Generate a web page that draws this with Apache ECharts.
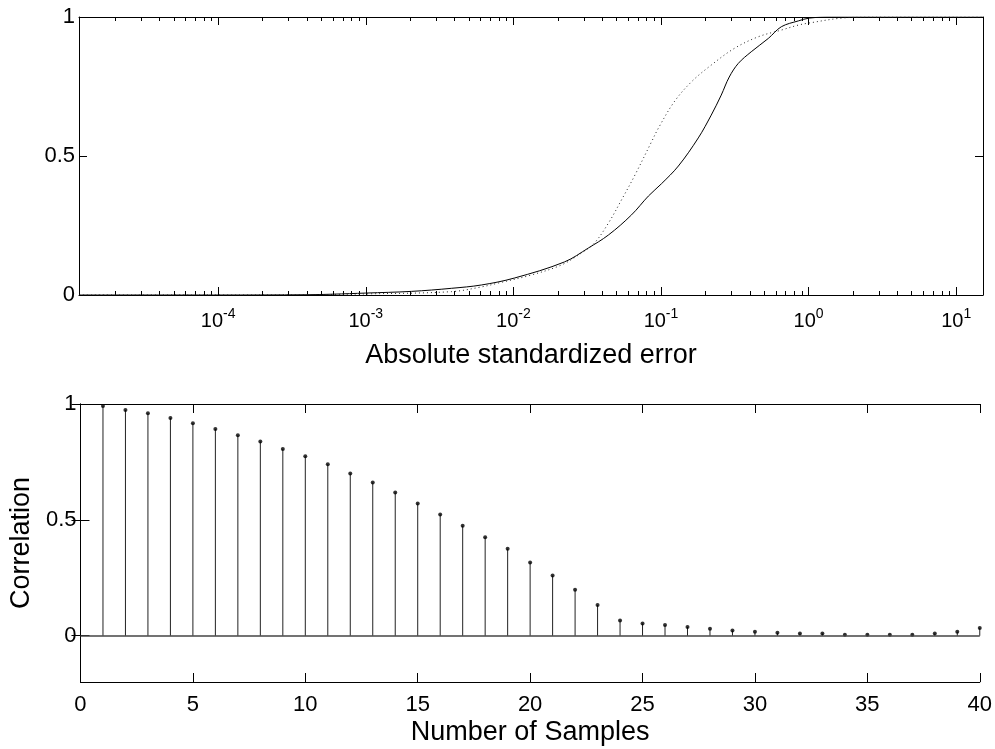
<!DOCTYPE html>
<html>
<head>
<meta charset="utf-8">
<script src="https://cdn.jsdelivr.net/npm/echarts@6/dist/echarts.min.js"></script>
<style>html,body{margin:0;padding:0;background:#fff}#c{width:995px;height:749px}</style>
</head>
<body>
<div id="c"></div>
<script>
// ---- Top panel data: cumulative fraction vs absolute standardized error ----
const errMin = 1.14e-5;
const errMax = 15.2;
const solidCurve = [
  [1.14e-5, 0], [1e-4, 0], [4e-4, 0.001], [6e-4, 0.003], [0.001, 0.007],
  [0.00204, 0.013], [0.0038, 0.024], [0.00607, 0.036], [0.01016, 0.061],
  [0.0222, 0.119], [0.0322, 0.169], [0.0441, 0.216], [0.0631, 0.288],
  [0.0822, 0.356], [0.1007, 0.40], [0.1312, 0.464], [0.179, 0.565],
  [0.219, 0.647], [0.256, 0.719], [0.29, 0.784], [0.334, 0.833],
  [0.409, 0.875], [0.534, 0.923], [0.654, 0.965], [0.853, 0.986],
  [1.01, 0.996], [1.43, 1], [15.2, 1]
];
const dottedCurve = [
  [1.14e-5, 0], [1e-4, 0], [4e-4, 0.001], [0.001, 0.004], [0.0038, 0.012],
  [0.00607, 0.029], [0.00791, 0.043], [0.01324, 0.072], [0.02115, 0.108],
  [0.0289, 0.151], [0.0354, 0.187], [0.0441, 0.259], [0.054, 0.342],
  [0.0661, 0.428], [0.0861, 0.55], [0.096, 0.60], [0.123, 0.695],
  [0.161, 0.767], [0.219, 0.827], [0.314, 0.887], [0.457, 0.929],
  [0.654, 0.953], [0.853, 0.971], [1.0, 0.978], [1.67, 0.996],
  [2.66, 1], [15.2, 1]
];
const decadeTicks = [1e-4, 1e-3, 1e-2, 1e-1, 1, 10];
const topYTicks = [0, 0.5, 1];

// ---- Bottom panel data: correlation vs number of samples ----
const samples = [1,2,3,4,5,6,7,8,9,10,11,12,13,14,15,16,17,18,19,20,
                 21,22,23,24,25,26,27,28,29,30,31,32,33,34,35,36,37,38,39,40];
const correlation = [0.991,0.974,0.960,0.940,0.917,0.892,0.865,0.838,0.806,0.774,
                     0.740,0.700,0.661,0.618,0.570,0.523,0.475,0.425,0.375,0.316,
                     0.260,0.198,0.132,0.066,0.053,0.046,0.037,0.030,0.022,0.017,
                     0.013,0.009,0.009,0.004,0.004,0.004,0.004,0.009,0.017,0.033];
const bottomXTicks = [0,5,10,15,20,25,30,35,40];
const bottomYTicks = [0, 0.5, 1];

// minor log ticks 2..9 x 10^n inside range
const minorTicks = [];
for (let n = -5; n <= 1; n++) for (let k = 2; k <= 9; k++) {
  const v = k * Math.pow(10, n);
  if (v > errMin && v < errMax) minorTicks.push(v);
}

const FONT = 'Liberation Sans, Arial, Helvetica, sans-serif';
const black = '#000';
const lineStyle = { color: black, width: 1 };
const titleStyle = { fontFamily: FONT, fontSize: 27, color: black };

function logAxis(pos, ticks, len, showLine, labels) {
  return {
    type: 'log', gridIndex: 0, position: pos, min: errMin, max: errMax, logBase: 10,
    axisLine: { show: showLine, lineStyle: lineStyle },
    axisTick: { show: true, inside: true, length: len, customValues: ticks, lineStyle: lineStyle },
    axisLabel: labels ? {
      show: true, customValues: decadeTicks, margin: 12, fontFamily: FONT, fontSize: 20, color: black,
      formatter: function (v) { return '{b|10}{s|' + Math.round(Math.log10(v)) + '}'; },
      rich: { b: { fontSize: 20, fontFamily: FONT, color: black },
              s: { fontSize: 14, fontFamily: FONT, color: black, padding: [0, 0, 14, 0] } }
    } : { show: false },
    splitLine: { show: false }
  };
}

const option = {
  animation: false,
  backgroundColor: '#fff',
  grid: [
    { left: 79, top: 17, right: 12, bottom: 454 },
    { left: 79, top: 404, right: 13, bottom: 67 }
  ],
  xAxis: [
    Object.assign(logAxis('bottom', decadeTicks, 8, true, true), {
      name: 'Absolute standardized error', nameLocation: 'middle', nameGap: 47,
      nameTextStyle: titleStyle
    }),
    logAxis('bottom', minorTicks, 4, false, false),
    logAxis('top', decadeTicks, 8, true, false),
    logAxis('top', minorTicks, 4, false, false),
    {
      type: 'value', gridIndex: 1, position: 'bottom', min: 0, max: 40, interval: 5,
      axisLine: { show: true, onZero: false, lineStyle: lineStyle },
      axisTick: { inside: true, length: 9, lineStyle: lineStyle },
      axisLabel: { margin: 12, fontFamily: FONT, fontSize: 22, color: black,
                   customValues: bottomXTicks },
      splitLine: { show: false },
      name: 'Number of Samples', nameLocation: 'middle', nameGap: 37,
      nameTextStyle: titleStyle
    },
    {
      type: 'value', gridIndex: 1, position: 'top', min: 0, max: 40, interval: 5,
      axisLine: { show: true, onZero: false, lineStyle: lineStyle },
      axisTick: { inside: true, length: 9, lineStyle: lineStyle },
      axisLabel: { show: false }, splitLine: { show: false }
    }
  ],
  yAxis: [
    {
      type: 'value', gridIndex: 0, position: 'left', min: 0, max: 1, interval: 0.5,
      axisLine: { show: true, lineStyle: lineStyle },
      axisTick: { inside: true, length: 8, lineStyle: lineStyle },
      axisLabel: { margin: 4, fontFamily: FONT, fontSize: 22, color: black },
      splitLine: { show: false }
    },
    {
      type: 'value', gridIndex: 0, position: 'right', min: 0, max: 1, interval: 0.5,
      axisLine: { show: true, lineStyle: lineStyle },
      axisTick: { inside: true, length: 8, lineStyle: lineStyle },
      axisLabel: { show: false }, splitLine: { show: false }
    },
    {
      type: 'value', gridIndex: 1, position: 'left', min: -0.2, max: 1,
      axisLine: { show: true, lineStyle: lineStyle },
      axisTick: { inside: true, length: 9, customValues: bottomYTicks, lineStyle: lineStyle },
      axisLabel: { margin: 4, fontFamily: FONT, fontSize: 22, color: black, customValues: bottomYTicks },
      splitLine: { show: false },
      name: 'Correlation', nameLocation: 'middle', nameGap: 40,
      nameTextStyle: titleStyle
    },
    {
      type: 'value', gridIndex: 1, position: 'right', min: -0.2, max: 1,
      axisLine: { show: true, lineStyle: lineStyle },
      axisTick: { inside: true, length: 9, customValues: bottomYTicks, lineStyle: lineStyle },
      axisLabel: { show: false }, splitLine: { show: false }
    }
  ],
  series: [
    {
      name: 'solid', type: 'line', xAxisIndex: 0, yAxisIndex: 0, data: solidCurve,
      showSymbol: false, smooth: 0.35,
      lineStyle: { color: '#000', width: 1 }
    },
    {
      name: 'dotted', type: 'line', xAxisIndex: 0, yAxisIndex: 0, data: dottedCurve,
      showSymbol: false, smooth: 0.35,
      lineStyle: { color: '#222', width: 1, type: [1, 3] }
    },
    {
      name: 'stems', type: 'bar', xAxisIndex: 4, yAxisIndex: 2,
      data: samples.map((s, i) => [s, correlation[i]]),
      barWidth: 1, itemStyle: { color: '#222' },
      markLine: {
        silent: true, symbol: 'none', label: { show: false },
        lineStyle: { color: '#444', width: 1.5, type: 'solid' },
        data: [{ yAxis: 0 }]
      }
    },
    {
      name: 'heads', type: 'scatter', xAxisIndex: 4, yAxisIndex: 2,
      data: samples.map((s, i) => [s, correlation[i]]),
      symbol: 'circle', symbolSize: 4, itemStyle: { color: '#000' }
    }
  ]
};

const chart = echarts.init(document.getElementById('c'), null, { renderer: 'canvas' });
chart.setOption(option);
</script>
</body>
</html>
